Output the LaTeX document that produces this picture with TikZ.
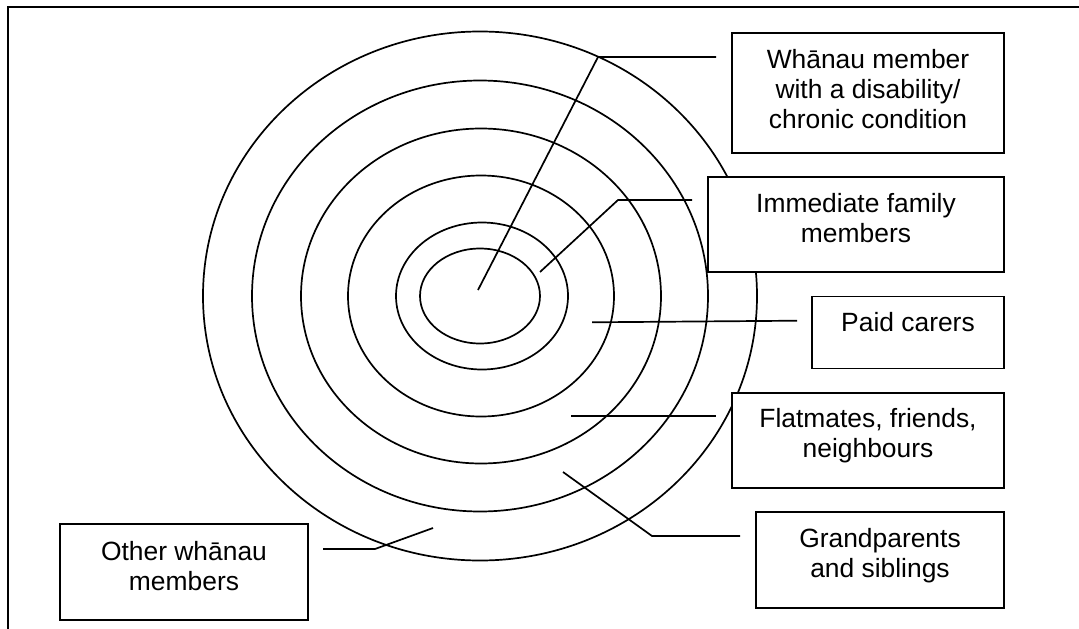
\documentclass[tikz,border=0pt]{standalone}
\usepackage{fontspec}
\setmainfont{Liberation Sans}
\usetikzlibrary{calc}
\tikzset{
  ln/.style={line width=1.7pt, line join=miter},
  ring/.style={line width=1.7pt},
  box/.style={draw, line width=1.7pt, fill=white, rectangle, inner sep=0pt, outer sep=0pt, anchor=north west},
  lbl/.style={inner sep=0pt, outer sep=0pt, anchor=base, font=\fontsize{26.4}{30}\selectfont},
}
\newcommand{\boxtext}[2]{\parbox[t]{#1}{\centering #2}}
\begin{document}
\begin{tikzpicture}[x=1pt,y=-1pt]
\useasboundingbox (0,0) rectangle (1079,629);
\clip (0,0) rectangle (1079,629);
\fill[white] (0,0) rectangle (1079,629);
% frame
\draw[line width=1.8pt] (8,7) rectangle (1120,680);
% rings (centre x / radius)
\foreach \cx/\r in {480/277,480/228,481/180,481/133,482/86,480/60}{
  \draw[ring] (\cx,296) ellipse [x radius=\r pt, y radius={\r pt-12.5pt}];
}
% boxes
\node[box, minimum width=272pt, minimum height=120pt] (b1) at (732,33) {};
\node[box, minimum width=296pt, minimum height=95pt] (b2) at (708,177) {};
\node[box, minimum width=192pt, minimum height=72pt] (b3) at (812,296.5) {};
\node[box, minimum width=272pt, minimum height=95pt] (b4) at (732,393) {};
\node[box, minimum width=248pt, minimum height=96pt] (b5) at (756,512) {};
\node[box, minimum width=248pt, minimum height=96pt] (b6) at (60,524) {};
% texts
\node[lbl] (t1) at ($(b1.north)+(0,35)$) {\boxtext{272pt}{Whānau member\\with a disability/\\chronic condition}};
\node[lbl] (t2) at ($(b2.north)+(0,35)$) {\boxtext{296pt}{Immediate family\\members}};
\node[lbl] (t3) at ($(b3.north)+(0,35.2)$) {\boxtext{192pt}{Paid carers}};
\node[lbl] (t4) at ($(b4.north)+(0,34.5)$) {\boxtext{272pt}{Flatmates, friends,\\neighbours}};
\node[lbl] (t5) at ($(b5.north)+(0,35.5)$) {\boxtext{248pt}{Grandparents\\and siblings}};
\node[lbl] (t6) at ($(b6.north)+(0,36)$) {\boxtext{248pt}{Other whānau\\members}};
% connector points
\coordinate (s1) at (478,290);
\coordinate (c1) at (598,57);
\coordinate (s2) at (540,272);
\coordinate (c2) at (618,200);
\coordinate (s3) at (592,322.3);
\coordinate (e3) at ([xshift=-15pt]b3.west |- 0,320.7);
\coordinate (s4) at (571,416);
\coordinate (s5) at (563,472);
\coordinate (c5) at (652,536);
\coordinate (s6) at (433,528);
\coordinate (c6) at (375,549);
% connectors
\draw[ln] (s1) -- (c1) -- ([xshift=-16pt]b1.west |- c1);
\draw[ln] (s2) -- (c2) -- ([xshift=-16pt]b2.west |- c2);
\draw[ln] (s3) -- (e3);
\draw[ln] (s4) -- ([xshift=-16pt]b4.west |- s4);
\draw[ln] (s5) -- (c5) -- ([xshift=-16pt]b5.west |- c5);
\draw[ln] (s6) -- (c6) -- ([xshift=15pt]b6.east |- c6);
\end{tikzpicture}
\end{document}
